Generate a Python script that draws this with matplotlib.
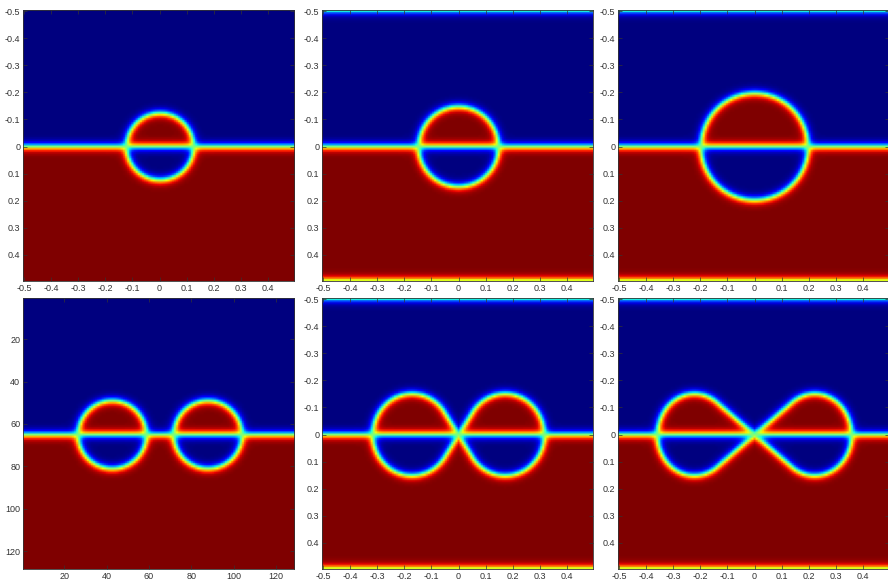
import numpy as np
import matplotlib
matplotlib.use("Agg")
import matplotlib.pyplot as plt

# phase field snapshots on a 128 x 128 grid, unit box [-0.5, 0.5)
grid_n = 128
interface_width = 0.016

# top row: a single drop sitting on the flat interface
drop_radius = [0.123, 0.147, 0.197]
drop_periodic = [False, True, True]

# bottom-left: two separate drops (plotted in grid index units)
pair_centers = [-0.176, 0.176]
pair_radius = 0.125

# bottom middle/right: two lobes pinched together at the origin
lobe_center = [0.172, 0.222]
lobe_extent = [0.316, 0.358]
lobe_height = [0.151, 0.151]

ticks_unit = [-0.5, -0.4, -0.3, -0.2, -0.1, 0, 0.1, 0.2, 0.3, 0.4]
tick_labels_unit = ['-0.5', '-0.4', '-0.3', '-0.2', '-0.1', '0', '0.1', '0.2', '0.3', '0.4']
ticks_index = [20, 40, 60, 80, 100, 120]

h = 1.0 / grid_n
xs = -0.5 + np.arange(grid_n) * h
X, Y = np.meshgrid(xs, xs)


def layer(periodic):
    # 0 above the interface, 1 below; periodic copies sit on the box walls
    u = 1 + np.tanh(Y / interface_width)
    if periodic:
        u = u - np.tanh((Y - (0.5 - h / 2)) / interface_width)
        u = u - np.tanh((Y + (0.5 + h / 2)) / interface_width)
    return 0.5 * u


def combine(u, d):
    c = 0.5 * (1 + np.tanh(d / interface_width))
    return u + c - 2 * u * c


def lobe_distance(cx, extent, height):
    # convex hull of the origin and an ellipse centred at (+-cx, 0)
    ax = extent - cx
    by = height
    phi = np.arccos(-ax / cx)
    tx, ty = cx + ax * np.cos(phi), by * np.sin(phi)
    t = np.linspace(-phi, phi, 500)
    s = np.linspace(0, 1, 120)
    bx = np.concatenate([cx + ax * np.cos(t), s * tx, s * tx])
    by_ = np.concatenate([by * np.sin(t), s * ty, -s * ty])
    AX = np.abs(X)
    d = np.full(X.shape, np.inf)
    for a, b in zip(bx, by_):
        d = np.minimum(d, np.hypot(AX - a, Y - b))
    in_ell = ((AX - cx) / ax) ** 2 + (Y / by) ** 2 < 1
    in_tri = (AX <= tx) & (np.abs(Y) <= AX * ty / tx)
    return np.where(in_ell | in_tri, d, -d)


fields = []
for R, per in zip(drop_radius, drop_periodic):
    fields.append(combine(layer(per), R - np.hypot(X, Y)))

d_pair = np.maximum.reduce([pair_radius - np.hypot(X - cx, Y) for cx in pair_centers])
fields.append(combine(layer(False), d_pair))
for cx, ext, ht in zip(lobe_center, lobe_extent, lobe_height):
    fields.append(combine(layer(True), lobe_distance(cx, ext, ht)))

plt.rcParams['font.family'] = ['Liberation Sans', 'DejaVu Sans']
plt.rcParams['axes.unicode_minus'] = False
fig = plt.figure(figsize=(8.88, 5.84), dpi=100)
W, H = 888.0, 584.0
lefts = [23, 322, 618]
tops = [10, 298]
size = 271

for k, phi in enumerate(fields):
    row, col = divmod(k, 3)
    ax = fig.add_axes([lefts[col] / W, 1 - (tops[row] + size) / H, size / W, size / H])
    if k == 3:
        ax.imshow(phi, cmap='jet', vmin=0, vmax=1, aspect='auto',
                  extent=(0.5, grid_n + 0.5, grid_n + 0.5, 0.5))
        ax.set_xticks(ticks_index)
        ax.set_yticks(ticks_index)
    else:
        ax.imshow(phi, cmap='jet', vmin=0, vmax=1, aspect='auto',
                  extent=(-0.5 - h / 2, 0.5 - h / 2, 0.5 - h / 2, -0.5 - h / 2))
        ax.set_xticks(ticks_unit)
        ax.set_xticklabels(tick_labels_unit)
        ax.set_yticks(ticks_unit)
        ax.set_yticklabels(tick_labels_unit)
    ax.tick_params(direction='in', top=True, right=True, length=3, width=0.5,
                   labelsize=6.5, colors='#333333', pad=2)
    for s in ax.spines.values():
        s.set_linewidth(0.6)
        s.set_color('#333333')

fig.savefig('out.png', dpi=100)
